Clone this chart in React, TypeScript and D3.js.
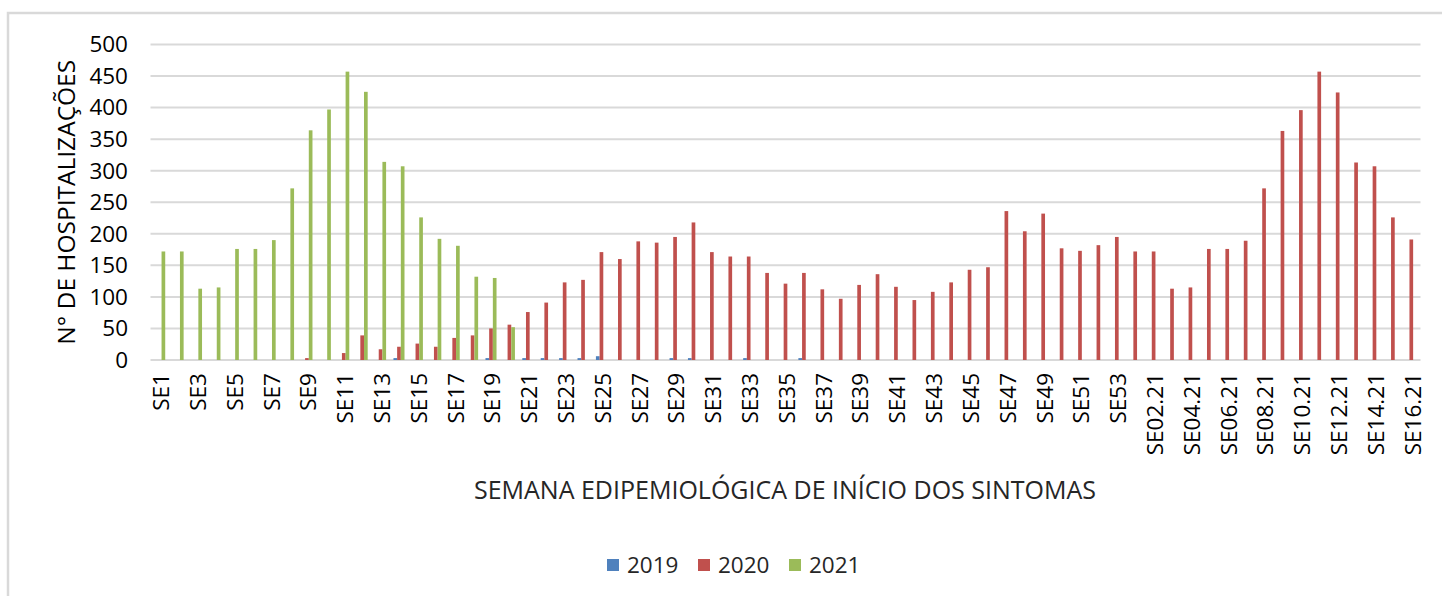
import { useEffect, useRef } from "react";
import * as d3 from "d3";

const weeks = [
  "SE1", "SE2", "SE3", "SE4", "SE5", "SE6", "SE7", "SE8", "SE9", "SE10",
  "SE11", "SE12", "SE13", "SE14", "SE15", "SE16", "SE17", "SE18", "SE19", "SE20",
  "SE21", "SE22", "SE23", "SE24", "SE25", "SE26", "SE27", "SE28", "SE29", "SE30",
  "SE31", "SE32", "SE33", "SE34", "SE35", "SE36", "SE37", "SE38", "SE39", "SE40",
  "SE41", "SE42", "SE43", "SE44", "SE45", "SE46", "SE47", "SE48", "SE49", "SE50",
  "SE51", "SE52", "SE53",
  "SE01.21", "SE02.21", "SE03.21", "SE04.21", "SE05.21", "SE06.21", "SE07.21", "SE08.21",
  "SE09.21", "SE10.21", "SE11.21", "SE12.21", "SE13.21", "SE14.21", "SE15.21", "SE16.21",
];

const years = ["2019", "2020", "2021"];

const values2019 = [
  0, 0, 0, 0, 0, 0, 0, 0, 0, 0,
  0, 0, 0, 3, 0, 0, 0, 0, 3, 0,
  3, 3, 3, 3, 6, 0, 0, 0, 3, 3,
  0, 0, 3, 0, 0, 3, 0, 0, 0, 0,
  0, 0, 0, 0, 0, 0, 0, 0, 0, 0,
  0, 0, 0,
  0, 0, 0, 0, 0, 0, 0, 0,
  0, 0, 0, 0, 0, 0, 0, 0,
];

const values2020 = [
  0, 0, 0, 0, 0, 0, 0, 0, 3, 0,
  11, 39, 17, 21, 26, 21, 35, 39, 50, 56,
  76, 91, 123, 127, 171, 160, 188, 186, 195, 218,
  171, 164, 164, 138, 121, 138, 112, 97, 119, 136,
  116, 95, 108, 123, 143, 147, 236, 204, 232, 177,
  173, 182, 195,
  172, 172, 113, 115, 176, 176, 189, 272,
  363, 396, 457, 424, 313, 307, 226, 191,
];

const values2021 = [
  172, 172, 113, 115, 176, 176, 190, 272, 364, 397,
  457, 425, 314, 307, 226, 192, 181, 132, 130, 52,
];

const yTicks = [0, 50, 100, 150, 200, 250, 300, 350, 400, 450, 500];

const colors = { "2019": "#4F81BD", "2020": "#C0504D", "2021": "#9BBB59" };

const FONT = "'Open Sans', 'Noto Sans', sans-serif";

const App = () => {
  const svgRef = useRef(null);

  useEffect(() => {
    const svg = d3.select(svgRef.current);
    svg.selectAll("*").remove();

    const left = 150.5;
    const right = 1420.5;
    const top = 44.5;
    const bottom = 360;

    // outer chart border (cut off on the right and bottom)
    svg
      .append("rect")
      .attr("x", 8)
      .attr("y", 13)
      .attr("width", 1460)
      .attr("height", 600)
      .attr("fill", "none")
      .attr("stroke", "#D9D9D9")
      .attr("stroke-width", 2.5);

    const x = d3.scaleBand().domain(weeks).range([left, right]).padding(0);
    const inner = d3
      .scaleBand()
      .domain(years)
      .range([0, x.bandwidth()])
      .paddingInner(0)
      .paddingOuter(1);
    const y = d3.scaleLinear().domain([0, 500]).range([bottom, top]);

    // gridlines
    svg
      .append("g")
      .selectAll("line")
      .data(yTicks)
      .join("line")
      .attr("x1", left)
      .attr("x2", right)
      .attr("y1", (d) => y(d))
      .attr("y2", (d) => y(d))
      .attr("stroke", "#D9D9D9")
      .attr("stroke-width", 2);

    // y tick labels
    svg
      .append("g")
      .selectAll("text")
      .data(yTicks)
      .join("text")
      .attr("x", 128)
      .attr("y", (d) => y(d))
      .attr("dy", "0.35em")
      .attr("text-anchor", "end")
      .style("font-family", FONT)
      .style("font-size", "22.5px")
      .style("fill", "#000")
      .text((d) => d);

    // bars
    const rows = weeks.map((w, i) => ({
      week: w,
      vals: [
        { year: "2019", value: values2019[i] ?? 0 },
        { year: "2020", value: values2020[i] ?? 0 },
        { year: "2021", value: values2021[i] ?? 0 },
      ],
    }));

    svg
      .append("g")
      .selectAll("g")
      .data(rows)
      .join("g")
      .attr("transform", (d) => `translate(${x(d.week)},0)`)
      .selectAll("rect")
      .data((d) => d.vals.filter((v) => v.value > 0))
      .join("rect")
      .attr("x", (d) => inner(d.year))
      .attr("width", inner.bandwidth())
      .attr("y", (d) => y(d.value))
      .attr("height", (d) => bottom - y(d.value))
      .attr("fill", (d) => colors[d.year]);

    // x tick labels (every other week)
    svg
      .append("g")
      .selectAll("text")
      .data(weeks.filter((_, i) => i % 2 === 0))
      .join("text")
      .attr(
        "transform",
        (d) => `translate(${x(d) + x.bandwidth() / 2 + 1.5},373) rotate(-90)`
      )
      .attr("dy", "0.35em")
      .attr("text-anchor", "end")
      .style("font-family", FONT)
      .style("font-size", "22.5px")
      .style("fill", "#000")
      .text((d) => d);

    // y axis title
    svg
      .append("text")
      .attr("transform", `translate(66,${(top + bottom) / 2}) rotate(-90)`)
      .attr("dy", "0.35em")
      .attr("text-anchor", "middle")
      .style("font-family", FONT)
      .style("font-size", "24.5px")
      .style("fill", "#000")
      .text("N° DE HOSPITALIZAÇÕES");

    // x axis title
    svg
      .append("text")
      .attr("x", 785)
      .attr("y", 490)
      .attr("dy", "0.35em")
      .attr("text-anchor", "middle")
      .style("font-family", FONT)
      .style("font-size", "25px")
      .style("fill", "#262626")
      .text("SEMANA EDIPEMIOLÓGICA DE INÍCIO DOS SINTOMAS");

    // legend
    const legend = svg
      .append("g")
      .selectAll("g")
      .data(years)
      .join("g")
      .attr("transform", (_, i) => `translate(${607 + i * 91},565)`);
    legend
      .append("rect")
      .attr("x", 0)
      .attr("y", -6)
      .attr("width", 12)
      .attr("height", 12)
      .attr("fill", (d) => colors[d]);
    legend
      .append("text")
      .attr("x", 20)
      .attr("y", 0)
      .attr("dy", "0.35em")
      .style("font-family", FONT)
      .style("font-size", "22.5px")
      .style("fill", "#262626")
      .text((d) => d);
  }, []);

  return (
    <svg
      ref={svgRef}
      width={1442}
      height={596}
      style={{ position: "absolute", left: 0, top: 0, background: "#fff" }}
    ></svg>
  );
};

export default App;
